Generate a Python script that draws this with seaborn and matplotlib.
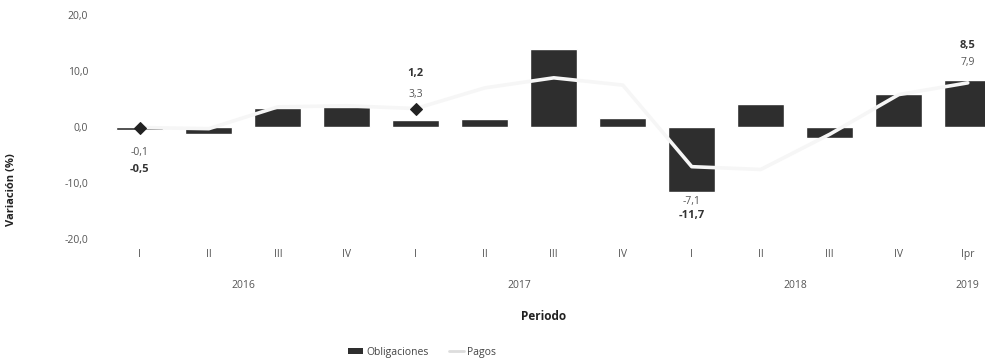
import numpy as np
import pandas as pd
import matplotlib
matplotlib.use("Agg")
import matplotlib.pyplot as plt
from matplotlib.patches import Patch
from matplotlib.lines import Line2D
from matplotlib.ticker import FuncFormatter
import seaborn as sns

# Quarterly variation (%) of obligations and payments
years = ["2016", "2017", "2018", "2019"]
period_year = ["2016"] * 4 + ["2017"] * 4 + ["2018"] * 4 + ["2019"]
quarters = ["I", "II", "III", "IV", "I", "II", "III", "IV", "I", "II", "III", "IV", "Ipr"]
obligaciones = [-0.5, -1.2, 3.4, 3.5, 1.2, 1.5, 13.9, 1.6, -11.7, 4.1, -2.0, 5.9, 8.5]
pagos = [-0.1, -0.3, 3.6, 3.8, 3.3, 7.0, 8.8, 7.5, -7.1, -7.6, -1.3, 5.8, 7.9]
labelled = [0, 4, 8, 12]

df = pd.DataFrame({
    "periodo": [f"{y}-{q}" for y, q in zip(period_year, quarters)],
    "Obligaciones": obligaciones,
    "Pagos": pagos,
})

sns.set_theme(style="white")
plt.rcParams["font.family"] = ["Open Sans", "DejaVu Sans"]

W, H = 985, 364
fig = plt.figure(figsize=(W / 100, H / 100), dpi=100)
ax = fig.add_axes([95 / W, 1 - 241 / H, (W - 95) / W, 228 / H])

bar_color = "#2e2e2e"
line_color = "#f6f6f6"
mark_color = "#222222"

sns.barplot(data=df, x="periodo", y="Obligaciones", color=bar_color,
            saturation=1, width=0.68, ax=ax)
sns.lineplot(data=df, x="periodo", y="Pagos", color=line_color, linewidth=2.6,
             sort=False, ax=ax, marker="D", markevery=labelled[:2], markersize=6,
             markerfacecolor=mark_color, markeredgecolor=mark_color)

n = len(df)
ax.set_xlim(-0.65, 12.25)
ax.set_ylim(-20.4, 20.4)
ax.set_yticks([-20, -10, 0, 10, 20])
ax.yaxis.set_major_formatter(FuncFormatter(lambda v, _: f"{v:.1f}".replace(".", ",")))
ax.set_xticks(range(n))
ax.set_xticklabels(quarters)
ax.tick_params(axis="x", length=0, pad=6, labelsize=7.5, labelcolor="#555555")
ax.tick_params(axis="y", length=0, pad=5, labelsize=7.5, labelcolor="#555555")
ax.set_xlabel("")
ax.set_ylabel("")
sns.despine(ax=ax, left=True, bottom=True)
ax.grid(False)

# year group labels under the quarter labels
xt = ax.get_xaxis_transform()
for yr in years:
    pos = [i for i, y in enumerate(period_year) if y == yr]
    ax.text(np.mean(pos), -(285 - 241) / 228, yr, transform=xt,
            ha="center", va="center", fontsize=7.5, color="#555555")

# value labels: payments nearer the bar, obligations further out
fmt = lambda v: f"{v:.1f}".replace(".", ",")
pagos_off = [-23, 14, -9, 17]
oblig_off = [-40, 35, -23, 34]
for k, i in enumerate(labelled):
    o, p = obligaciones[i], pagos[i]
    anchor = max(o, p) if o >= 0 else min(o, p)
    ax.annotate(fmt(p), (i, anchor), xytext=(0, pagos_off[k]), textcoords="offset pixels",
                ha="center", va="center", fontsize=7.5, color="#555555")
    ax.annotate(fmt(o), (i, anchor), xytext=(0, oblig_off[k]), textcoords="offset pixels",
                ha="center", va="center", fontsize=8, fontweight="bold", color="#333333")

fig.text(544 / W, 1 - 317 / H, "Periodo", ha="center", va="center",
         fontsize=8.5, fontweight="bold", color="#222222")
fig.text(12 / W, 1 - 190 / H, "Variación (%)", ha="center", va="center",
         rotation=90, fontsize=8, fontweight="bold", color="#222222")

handles = [Patch(facecolor=bar_color, edgecolor="none"),
           Line2D([0], [0], color="#dddddd", linewidth=2)]
fig.legend(handles, ["Obligaciones", "Pagos"], loc="center", ncol=2,
           bbox_to_anchor=(422 / W, 1 - 352 / H), frameon=False, fontsize=7.5,
           handlelength=1.4, handleheight=0.6, columnspacing=2.0, handletextpad=0.3,
           labelcolor="#444444")

fig.savefig("out.png", dpi=100)
